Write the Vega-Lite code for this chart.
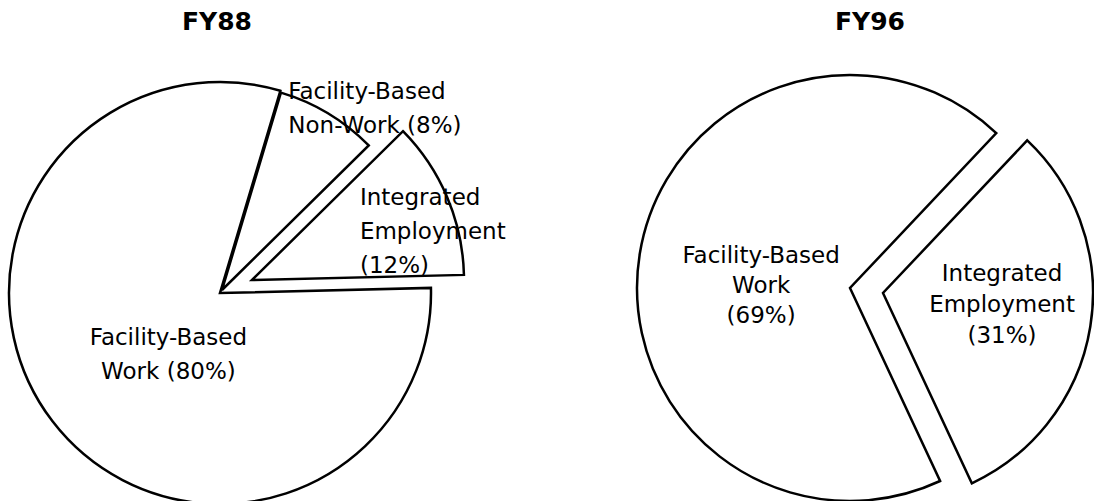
{
  "$schema": "https://vega.github.io/schema/vega-lite/v6.json",
  "padding": {"top": 10, "left": 0, "right": 0, "bottom": 0},
  "background": "white",
  "bounds": "flush",
  "spacing": 190,
  "config": {"view": {"stroke": null}},
  "data": {"values": [
    {"year": "FY88", "category": "Facility-Based Non-Work", "value": 8, "label": ["Facility-Based", "Non-Work (8%)"]},
    {"year": "FY88", "category": "Integrated Employment", "value": 12, "label": ["Integrated", "Employment", "(12%)"]},
    {"year": "FY88", "category": "Facility-Based Work", "value": 80, "label": ["Facility-Based", "Work (80%)"]},
    {"year": "FY96", "category": "Integrated Employment", "value": 31, "label": ["Integrated", "Employment", "(31%)"]},
    {"year": "FY96", "category": "Facility-Based Work", "value": 69, "label": ["Facility-Based", "Work", "(69%)"]}
  ]},
  "hconcat": [
    {
      "width": 440,
      "height": 472,
      "title": {"text": "FY88", "font": "DejaVu Sans", "fontSize": 25, "fontWeight": "bold", "color": "black", "anchor": "middle", "baseline": "alphabetic", "offset": 2, "dx": -3},
      "transform": [{"filter": "datum.year === 'FY88'"}],
      "layer": [
        {
          "transform": [
            {"stack": "value", "groupby": [], "sort": [{"field": "value", "order": "ascending"}], "as": ["v0", "v1"]},
            {"filter": "datum.category === 'Facility-Based Work'"}
          ],
          "mark": {"type": "arc", "radius": 211, "fill": "white", "stroke": "black", "strokeWidth": 2.5},
          "encoding": {
            "theta": {"field": "v0", "type": "quantitative", "scale": {"domain": [0, 100], "range": [0.29, 6.5732]}},
            "theta2": {"field": "v1"}
          }
        },
        {
          "transform": [
            {"stack": "value", "groupby": [], "sort": [{"field": "value", "order": "ascending"}], "as": ["v0", "v1"]},
            {"filter": "datum.category === 'Facility-Based Non-Work'"}
          ],
          "mark": {"type": "arc", "radius": 206, "fill": "white", "stroke": "black", "strokeWidth": 2.5, "xOffset": 2, "yOffset": -3},
          "encoding": {
            "theta": {"field": "v0", "type": "quantitative", "scale": {"domain": [0, 100], "range": [0.29, 6.5732]}},
            "theta2": {"field": "v1"}
          }
        },
        {
          "transform": [
            {"stack": "value", "groupby": [], "sort": [{"field": "value", "order": "ascending"}], "as": ["v0", "v1"]},
            {"filter": "datum.category === 'Integrated Employment'"}
          ],
          "mark": {"type": "arc", "radius": 212, "fill": "white", "stroke": "black", "strokeWidth": 2.5, "xOffset": 32, "yOffset": -13},
          "encoding": {
            "theta": {"field": "v0", "type": "quantitative", "scale": {"domain": [0, 100], "range": [0.29, 6.5732]}},
            "theta2": {"field": "v1"}
          }
        },
        {
          "mark": {"type": "text", "radius": 80, "dx": 12, "dy": -4, "align": "center", "baseline": "middle", "font": "DejaVu Sans", "fontSize": 23, "lineHeight": 34, "color": "black"},
          "encoding": {
            "theta": {"field": "value", "type": "quantitative", "stack": true, "scale": {"domain": [0, 100], "range": [0.29, 6.5732]}},
            "order": {"field": "value", "sort": "ascending"},
            "text": {"field": "label", "condition": {"test": "datum.category !== 'Facility-Based Work'", "value": ""}}
          }
        },
        {
          "mark": {"type": "text", "radius": 218, "dx": -44, "dy": -14, "align": "left", "baseline": "middle", "font": "DejaVu Sans", "fontSize": 23, "lineHeight": 34, "color": "black"},
          "encoding": {
            "theta": {"field": "value", "type": "quantitative", "stack": true, "scale": {"domain": [0, 100], "range": [0.29, 6.5732]}},
            "order": {"field": "value", "sort": "ascending"},
            "text": {"field": "label", "condition": {"test": "datum.category !== 'Facility-Based Non-Work'", "value": ""}}
          }
        },
        {
          "mark": {"type": "text", "radius": 152, "dx": 0, "dy": -36, "align": "left", "baseline": "middle", "font": "DejaVu Sans", "fontSize": 23, "lineHeight": 34, "color": "black"},
          "encoding": {
            "theta": {"field": "value", "type": "quantitative", "stack": true, "scale": {"domain": [0, 100], "range": [0.29, 6.5732]}},
            "order": {"field": "value", "sort": "ascending"},
            "text": {"field": "label", "condition": {"test": "datum.category !== 'Integrated Employment'", "value": ""}}
          }
        }
      ]
    },
    {
      "width": 440,
      "height": 462,
      "title": {"text": "FY96", "font": "DejaVu Sans", "fontSize": 25, "fontWeight": "bold", "color": "black", "anchor": "middle", "baseline": "alphabetic", "offset": 2, "dx": 20},
      "transform": [{"filter": "datum.year === 'FY96'"}],
      "layer": [
        {
          "transform": [
            {"stack": "value", "groupby": [], "sort": [{"field": "value", "order": "ascending"}], "as": ["v0", "v1"]},
            {"filter": "datum.category === 'Facility-Based Work'"}
          ],
          "mark": {"type": "arc", "radius": 213, "fill": "white", "stroke": "black", "strokeWidth": 2.5},
          "encoding": {
            "theta": {"field": "v0", "type": "quantitative", "scale": {"domain": [0, 100], "range": [0.757, 7.0402]}},
            "theta2": {"field": "v1"}
          }
        },
        {
          "transform": [
            {"stack": "value", "groupby": [], "sort": [{"field": "value", "order": "ascending"}], "as": ["v0", "v1"]},
            {"filter": "datum.category === 'Integrated Employment'"}
          ],
          "mark": {"type": "arc", "radius": 210, "fill": "white", "stroke": "black", "strokeWidth": 2.5, "xOffset": 33, "yOffset": 5},
          "encoding": {
            "theta": {"field": "v0", "type": "quantitative", "scale": {"domain": [0, 100], "range": [0.757, 7.0402]}},
            "theta2": {"field": "v1"}
          }
        },
        {
          "mark": {"type": "text", "radius": 90, "dx": 0, "dy": -18, "align": "center", "baseline": "middle", "font": "DejaVu Sans", "fontSize": 23, "lineHeight": 30, "color": "black"},
          "encoding": {
            "theta": {"field": "value", "type": "quantitative", "stack": true, "scale": {"domain": [0, 100], "range": [0.757, 7.0402]}},
            "order": {"field": "value", "sort": "ascending"},
            "text": {"field": "label", "condition": {"test": "datum.category !== 'Facility-Based Work'", "value": ""}}
          }
        },
        {
          "mark": {"type": "text", "radius": 154, "dx": 0, "dy": -39, "align": "center", "baseline": "middle", "font": "DejaVu Sans", "fontSize": 23, "lineHeight": 31, "color": "black"},
          "encoding": {
            "theta": {"field": "value", "type": "quantitative", "stack": true, "scale": {"domain": [0, 100], "range": [0.757, 7.0402]}},
            "order": {"field": "value", "sort": "ascending"},
            "text": {"field": "label", "condition": {"test": "datum.category !== 'Integrated Employment'", "value": ""}}
          }
        }
      ]
    }
  ]
}
